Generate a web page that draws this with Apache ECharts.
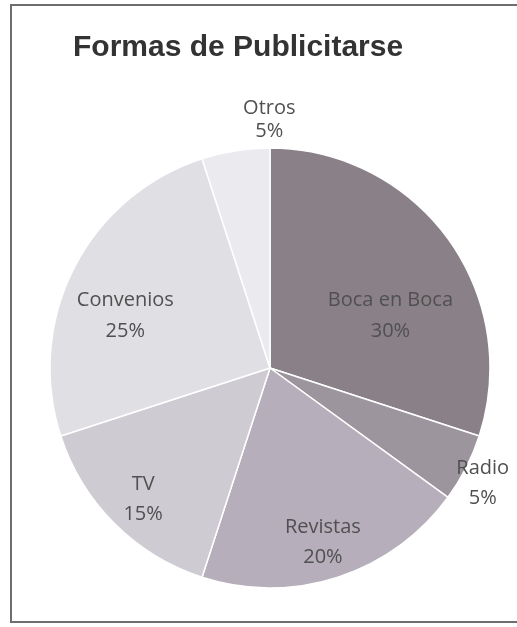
<!DOCTYPE html>
<html>
<head>
<meta charset="utf-8">
<script src="https://cdn.jsdelivr.net/npm/echarts@6/dist/echarts.min.js"></script>
<style>
  html, body { margin: 0; padding: 0; background: #fff; }
  #chart { width: 517px; height: 627px; }
</style>
</head>
<body>
<div id="chart"></div>
<script>
// Advertising channels and their share (%)
const categories = ['Boca en Boca', 'Radio', 'Revistas', 'TV', 'Convenios', 'Otros'];
const shares = [30, 5, 20, 15, 25, 5];

// Slice fills, darkest first
const sliceColors = ['#8a8088', '#9d959e', '#b6aebb', '#cecbd2', '#e0dfe4', '#ebeaee'];
// Label nudges from the default inside anchor [dx, dy]
const labelOffsets = [[29, 14], [112, 64], [18, 67], [-47, 51], [-44, -1], [17, -137]];
const labelLineHeights = [31, 30, 30, 30, 31, 23];

const chart = echarts.init(document.getElementById('chart'));

const data = categories.map((name, i) => ({
  name,
  value: shares[i],
  itemStyle: { color: sliceColors[i] },
  label: { offset: labelOffsets[i], lineHeight: labelLineHeights[i] }
}));

chart.setOption({
  animation: false,
  backgroundColor: '#fff',
  title: {
    text: 'Formas de Publicitarse',
    left: 68,
    top: 28,
    textStyle: {
      fontFamily: 'Liberation Sans',
      fontWeight: 'bold',
      fontSize: 30,
      color: '#333333'
    }
  },
  graphic: [{
    type: 'rect',
    shape: { x: 11, y: 5, width: 520, height: 617 },
    style: { fill: 'none', stroke: '#6e6e6e', lineWidth: 2 },
    silent: true,
    z: -1
  }],
  series: [{
    type: 'pie',
    center: [270, 368],
    radius: [0, 220],
    startAngle: 90,
    clockwise: true,
    data,
    itemStyle: { borderColor: '#ffffff', borderWidth: 1.5 },
    label: {
      show: true,
      position: 'inside',
      formatter: p => p.name + '\n' + p.value + '%',
      fontFamily: 'Open Sans',
      fontSize: 20,
      color: '#505050'
    },
    labelLine: { show: false },
    emphasis: { disabled: true }
  }]
});
</script>
</body>
</html>
